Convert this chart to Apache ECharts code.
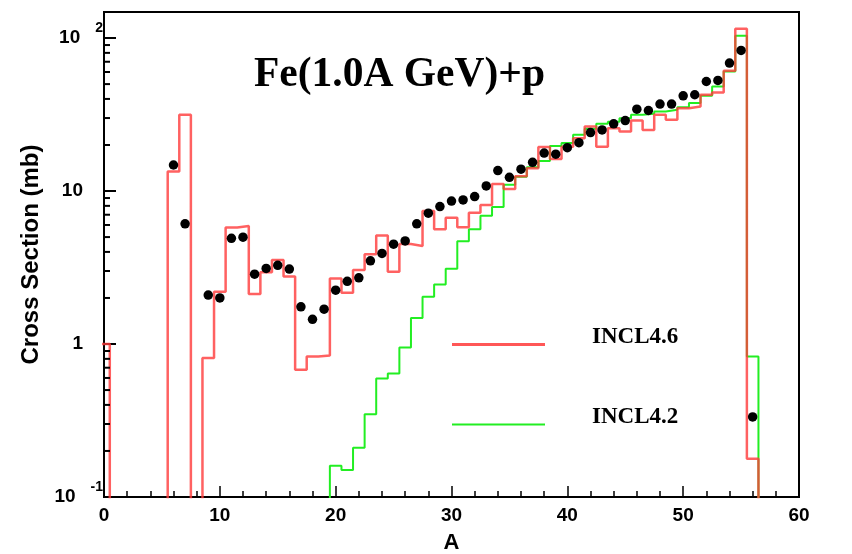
<!DOCTYPE html>
<html><head><meta charset="utf-8">
<script src="https://cdn.jsdelivr.net/npm/echarts@6/dist/echarts.min.js"></script>
<style>html,body{margin:0;padding:0;background:#fff}#c{width:852px;height:554px}</style>
</head><body><div id="c"></div>
<script>
// Mass number bins (A)
const massNumbers = [0,1,2,3,4,5,6,7,8,9,10,11,12,13,14,15,16,17,18,19,20,21,22,23,24,25,26,27,28,29,30,31,32,33,34,35,36,37,38,39,40,41,42,43,44,45,46,47,48,49,50,51,52,53,54,55,56];
// INCL4.6 histogram (mb), 0 = below plot range
const incl46 = [1.0,0,0,0,0,0,13.4,31.5,0,0.81,2.2,5.77,5.9,2.12,2.94,3.54,2.76,0.68,0.83,0.84,2.68,2.16,3.05,3.86,5.12,2.97,4.5,4.37,7.4,5.62,6.7,5.8,7.2,8.1,11.1,10.3,12.5,14.1,19.4,16.2,19.5,22.1,26.4,19.5,25.7,24.5,28.9,25.1,31.5,29.2,34.8,35.7,42.6,44.1,61.1,115,0.178];
// INCL4.2 histogram (mb)
const incl42 = [0,0,0,0,0,0,0,0,0,0,0,0,0,0,0,0,0,0,0,0,0.16,0.15,0.21,0.347,0.595,0.642,0.95,1.48,2.04,2.45,3.1,4.7,5.63,6.9,7.85,11.0,12.4,14.3,15.7,19.7,20.6,23.3,25.5,27.5,28.4,29.9,31.5,32.0,33.1,34.0,35.3,37.6,41.9,48.2,60.4,103.5,0.83];
// Experimental data
const expA = [6,7,9,10,11,12,13,14,15,16,17,18,19,20,21,22,23,24,25,26,27,28,29,30,31,32,33,34,35,36,37,38,39,40,41,42,43,44,45,46,47,48,49,50,51,52,53,54,55,56];
const expValues = [14.8,6.1,2.09,2.0,4.91,4.99,2.86,3.12,3.27,3.09,1.75,1.45,1.69,2.25,2.57,2.71,3.5,3.91,4.49,4.72,6.1,7.16,7.91,8.6,8.74,9.2,10.8,13.6,12.3,13.9,15.4,17.7,17.4,19.2,20.7,24.1,25.1,27.5,28.9,34.3,33.6,37.0,37.0,41.9,42.6,52.0,52.8,68.6,83.0,0.334];
// Minor log ticks on the y axis
const yMinorTicks = [0.2,0.3,0.4,0.5,0.6,0.7,0.8,0.9,2,3,4,5,6,7,8,9,20,30,40,50,60,70,80,90];

const FLOOR = 1e-4;
function histogram(values) {
  const pts = [];
  for (let i = 0; i < massNumbers.length; i++) {
    const a = massNumbers[i];
    const v = values[i] > 0 ? values[i] : FLOOR;
    pts.push([a - 0.5, v], [a + 0.5, v]);
  }
  pts.push([massNumbers[massNumbers.length - 1] + 0.5, FLOOR]);
  return pts;
}

const RED = '#ff3a3a', GREEN = '#22ee22';
const chart = echarts.init(document.getElementById('c'), null, {renderer: 'canvas'});
const legendText = {fontFamily: 'Liberation Serif', fontWeight: 'bold', fontSize: 23, color: '#000', padding: [0, 0, 0, 42]};
chart.setOption({
  animation: false,
  backgroundColor: '#fff',
  title: {
    text: 'Fe(1.0A GeV)+p', left: 254, top: 54, padding: 0,
    textStyle: {fontFamily: 'Liberation Serif', fontWeight: 'bold', fontSize: 41.5, color: '#000'}
  },
  legend: [
    {data: [{name: 'INCL4.6', itemStyle: {color: RED, opacity: 0.85}}], left: 452, top: 326, padding: 0,
     icon: 'path://M0 0h0.01v0.01h-0.01z M0 14h93v3h-93z', symbolKeepAspect: false,
     itemWidth: 93, itemHeight: 17, selectedMode: false, textStyle: legendText},
    {data: [{name: 'INCL4.2', itemStyle: {color: GREEN}}], left: 452, top: 405.5, padding: 0,
     icon: 'path://M0 0h0.01v0.01h-0.01z M0 15h93v2h-93z', symbolKeepAspect: false,
     itemWidth: 93, itemHeight: 17, selectedMode: false, textStyle: legendText}
  ],
  grid: {left: 104, top: 12, right: 53, bottom: 57, outerBoundsMode: 'none', containLabel: false,
         show: true, borderColor: '#000', borderWidth: 2, backgroundColor: 'transparent'},
  xAxis: {
    type: 'value', min: 0, max: 60, interval: 10,
    name: 'A', nameLocation: 'middle', nameGap: 35,
    nameTextStyle: {fontFamily: 'Liberation Sans', fontWeight: 'bold', fontSize: 22, color: '#000'},
    axisLine: {lineStyle: {color: '#000', width: 2}},
    axisTick: {inside: true, length: 11, lineStyle: {color: '#000', width: 1.5}},
    minorTick: {show: true, splitNumber: 5, length: 6, lineStyle: {color: '#000', width: 1.5}},
    splitLine: {show: false},
    axisLabel: {margin: 9, fontFamily: 'Liberation Sans', fontWeight: 'bold', fontSize: 19, color: '#000'}
  },
  yAxis: {
    type: 'log', logBase: 10, min: 0.1, max: 148,
    name: 'Cross Section (mb)', nameLocation: 'middle', nameGap: 50,
    nameTextStyle: {fontFamily: 'Liberation Sans', fontWeight: 'bold', fontSize: 24, color: '#000'},
    axisLine: {lineStyle: {color: '#000', width: 2}},
    axisTick: {show: true, inside: true, length: 12, lineStyle: {color: '#000', width: 2}},
    splitLine: {show: false},
    axisLabel: {
      margin: 1,
      formatter: function (v) {
        const l = Math.log10(v), e = Math.round(l);
        if (Math.abs(l - e) > 1e-6) return '';
        if (e === 0) return '{b|1}{sp|}';
        if (e === 1) return '{b|10}{sp|}';
        return '{b|10}{g|}{e|' + e + '}';
      },
      rich: {
        b: {fontFamily: 'Liberation Sans', fontWeight: 'bold', fontSize: 19, color: '#000', lineHeight: 34},
        e: {fontFamily: 'Liberation Sans', fontWeight: 'bold', fontSize: 14, color: '#000', verticalAlign: 'top', lineHeight: 34},
        g: {width: 15},
        sp: {width: 20}
      }
    }
  },
  series: [
    {type: 'custom', name: 'minorTicks', coordinateSystem: 'cartesian2d', silent: true, z: 10, clip: false,
     encode: {x: 0, y: 1},
     data: yMinorTicks.map(v => [0, v]),
     renderItem: function (params, api) {
       const p = api.coord([api.value(0), api.value(1)]);
       return {type: 'line', z2: 10, shape: {x1: p[0], y1: p[1], x2: p[0] + 6, y2: p[1]}, style: {stroke: '#000', lineWidth: 2}};
     }},
    {type: 'line', name: 'INCL4.2', data: histogram(incl42), symbol: 'none', clip: true, z: 2,
     itemStyle: {color: GREEN}, lineStyle: {color: GREEN, width: 2}},
    {type: 'line', name: 'INCL4.6', data: histogram(incl46), symbol: 'none', clip: true, z: 3,
     itemStyle: {color: RED}, lineStyle: {color: RED, width: 2.5, opacity: 0.8}},
    {type: 'scatter', name: 'data', data: expA.map((a, i) => [a, expValues[i]]), symbol: 'circle', symbolSize: 9.5, z: 4,
     itemStyle: {color: '#000', opacity: 1}}
  ]
});
</script></body></html>
